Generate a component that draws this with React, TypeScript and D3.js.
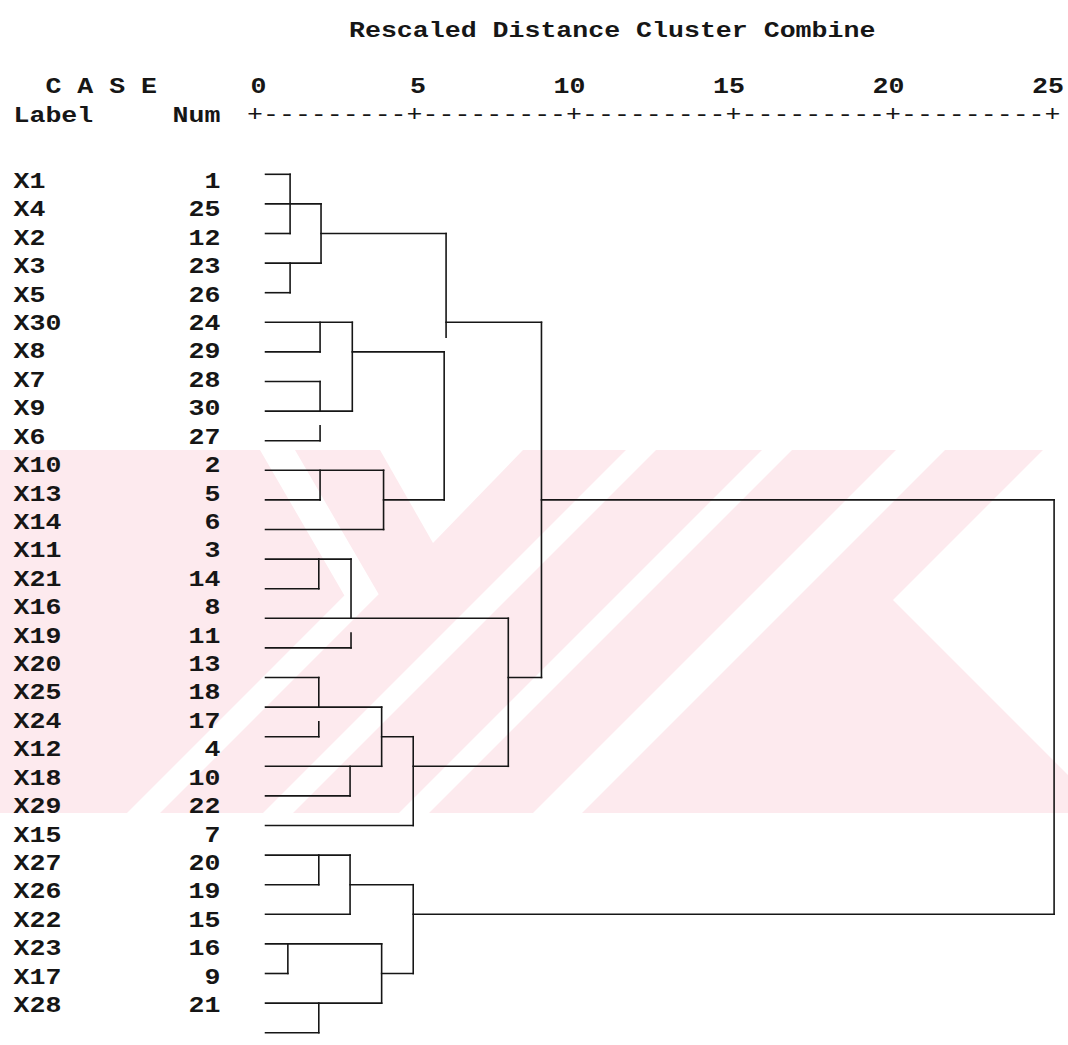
import React from "react";
import * as d3 from "d3";

// ---------- data ----------
const ROW_LABELS = ["X1","X4","X2","X3","X5","X30","X8","X7","X9","X6","X10","X13","X14","X11","X21","X16","X19","X20","X25","X24","X12","X18","X29","X15","X27","X26","X22","X23","X17","X28"];
const ROW_NUMS = [1,25,12,23,26,24,29,28,30,27,2,5,6,3,14,8,11,13,18,17,4,10,22,7,20,19,15,16,9,21];
const TICKS = [0, 5, 10, 15, 20, 25];
const TITLE = "Rescaled Distance Cluster Combine";

// rescaled distance where each leaf line starts / ends
const LEAF_START = 0.33;
const LEAF_ENDS = [1.1, 2.07, 1.1, 2.07, 1.1, 3.05, 2.04, 2.04, 3.05, 2.04, 4.03, 2.04, 4.03, 3.01, 2.0, 7.94, 3.01, 2.0, 3.97, 2.0, 3.97, 2.98, 4.96, 2.98, 2.0, 2.98, 3.97, 1.03, 3.97, 2.0];
// joining horizontals: [row, fromDistance, toDistance]
const JOIN_H: [number, number, number][] = [
  [2, 2.07, 5.99], [5, 5.99, 8.98], [6, 3.05, 5.93], [11, 4.03, 5.93], [11, 8.98, 25.05],
  [17, 7.94, 8.98], [19, 3.97, 4.96], [20, 4.96, 7.94], [24, 2.98, 4.96], [25, 4.96, 25.05], [27, 3.97, 4.96],
];
// verticals: [distance, fromRow, toRow]
const JOIN_V: [number, number, number][] = [
  [1.1, 0, 2], [2.07, 1, 3], [1.1, 3, 4], [5.99, 2, 5.5], [2.04, 5, 6], [3.05, 5, 8], [2.04, 7, 8],
  [2.04, 8.5, 9], [5.93, 6, 11], [2.04, 10, 11], [4.03, 10, 12], [8.98, 5, 17], [2.0, 13, 14],
  [3.01, 13, 15], [3.01, 15.5, 16], [7.94, 15, 20], [2.0, 17, 18], [2.0, 18.5, 19], [3.97, 18, 20],
  [2.98, 20, 21], [4.96, 19, 22], [2.0, 23, 24], [2.98, 23, 25], [4.96, 24, 27], [1.03, 26, 27],
  [3.97, 26, 28], [2.0, 28, 29], [25.05, 11, 25],
];

// ---------- decoration (background watermark) ----------
const WM_TOP = 450, WM_BOTTOM = 813;
const WM_WHITE: [number, number][][] = [
  [[626, 450], [656, 450], [293, 813], [263, 813]],
  [[762, 450], [792, 450], [429, 813], [399, 813]],
  [[896, 450], [945, 450], [582, 813], [533, 813]],
  [[1043, 450], [1068, 450], [1068, 775], [893, 600]],
  [[380, 450], [523, 450], [433, 543]],
  [[260, 450], [295, 450], [378.7, 594.3], [160, 813], [127, 813], [344.4, 595.6]],
];

const W = 1068, H = 1045;
const CHAR = 15.96;
const FS = 22;
const SX = CHAR / (FS * 0.6);
const FONT = "'Liberation Mono', 'DejaVu Sans Mono', monospace";
const INK = "#161616";

export default function App() {
  const x = d3.scaleLinear().domain([0, 25]).range([255, 1052.5]);
  const y = d3.scaleLinear().domain([0, 29]).range([174.3, 1032.7]);
  // the printed case labels run on a slightly tighter pitch than the tree lines
  const yText = d3.scaleLinear().domain([0, 29]).range([181, 1005]);

  const cellText = (s: string, cellStart: number, base: number, key: string) => (
    <text key={key} transform={`translate(${cellStart},${base}) scale(${SX},1)`}>{s}</text>
  );
  const rightText = (s: string, cellEnd: number, base: number, key: string) =>
    cellText(s, cellEnd - s.length * CHAR, base, key);

  const axisChars: { c: string; d: number }[] = [];
  TICKS.forEach((t, i) => {
    axisChars.push({ c: "+", d: t });
    if (i < TICKS.length - 1) {
      for (let k = 1; k < 10; k++) axisChars.push({ c: "-", d: t + (k * (TICKS[i + 1] - t)) / 10 });
    }
  });

  const line = d3.line<[number, number]>();

  return (
    <svg width={W} height={H} style={{ position: "absolute", left: 0, top: 0, background: "#fff" }}>
      <rect x={0} y={0} width={W} height={H} fill="#fff" />
      <g>
        <rect x={0} y={WM_TOP} width={W} height={WM_BOTTOM - WM_TOP} fill="#fdeaee" />
        {WM_WHITE.map((p, i) => (
          <path key={i} d={line(p as [number, number][]) + "Z"} fill="#fff" />
        ))}
      </g>

      <g fontFamily={FONT} fontSize={FS} fill={INK} fontWeight="bold">
        {cellText(TITLE, 349, 37, "title")}
        {cellText("C A S E", 45.4, 93.3, "case")}
        {cellText("Label", 13.5, 121.6, "lab")}
        {rightText("Num", 220.5, 121.6, "num")}
        {TICKS.map((t) => rightText(String(t), x(t) + 11.5, 93.3, "t" + t))}
        {ROW_LABELS.map((l, i) => cellText(l, 13.5, yText(i) + 7, "l" + i))}
        {ROW_NUMS.map((n, i) => rightText(String(n), 220.5, yText(i) + 7, "n" + i))}
      </g>
      <g fontFamily={FONT} fontSize={FS} fill={INK} textAnchor="middle">
        {axisChars.map((a, i) => (
          <text key={i} transform={`translate(${x(a.d)},121) scale(${SX},1)`}>{a.c}</text>
        ))}
      </g>

      <g stroke={INK} strokeWidth={1.6} fill="none" strokeLinecap="square">
        {LEAF_ENDS.map((e, i) => (
          <line key={"lf" + i} x1={x(LEAF_START)} x2={x(e)} y1={y(i)} y2={y(i)} />
        ))}
        {JOIN_H.map(([r, a, b], i) => (
          <line key={"h" + i} x1={x(a)} x2={x(b)} y1={y(r)} y2={y(r)} />
        ))}
        {JOIN_V.map(([d, r0, r1], i) => (
          <line key={"v" + i} x1={x(d)} x2={x(d)} y1={y(r0)} y2={y(r1)} />
        ))}
      </g>
    </svg>
  );
}
